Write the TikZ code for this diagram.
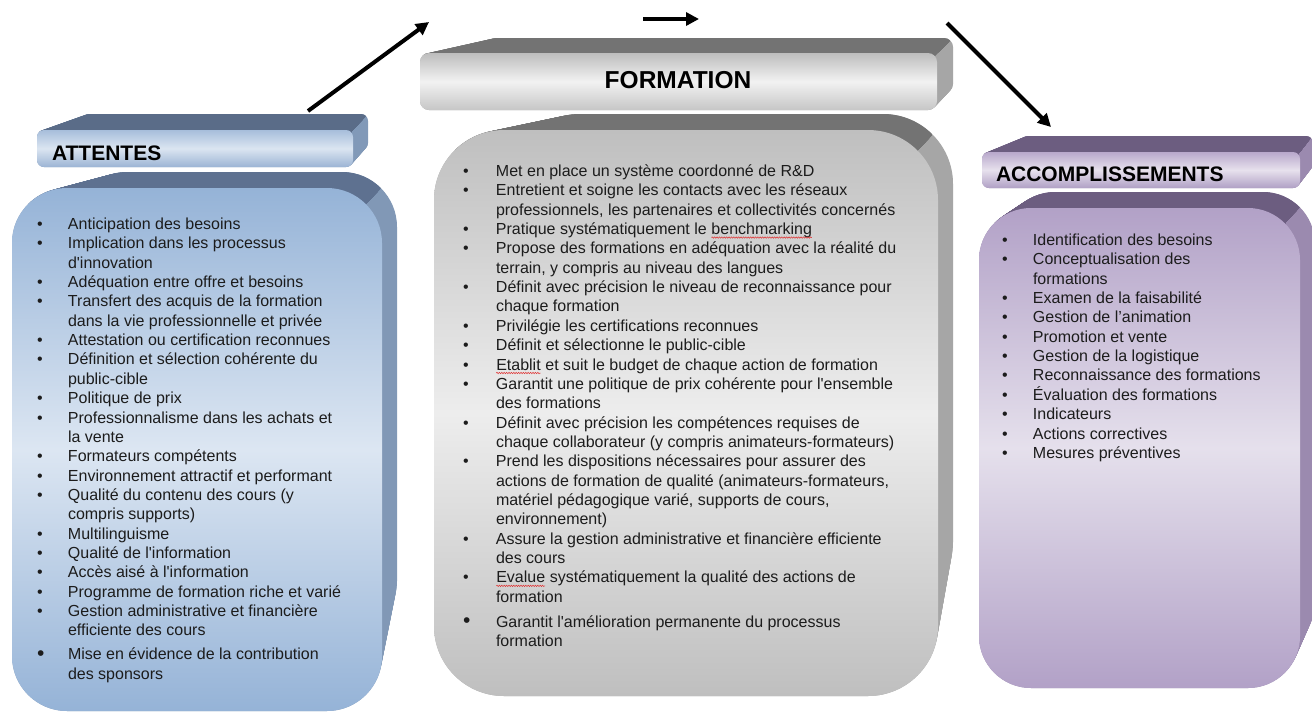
\documentclass[tikz,border=0pt]{standalone}
\usepackage{fontspec}
\setmainfont{Liberation Sans}[Ligatures={TeXOff,CommonOff}]
\usetikzlibrary{arrows.meta,decorations.pathmorphing}

% blue
\definecolor{bHdrTop}{HTML}{A7BEDB}\definecolor{bHdrMid}{HTML}{DBE5F1}\definecolor{bHdrBot}{HTML}{9CB4D4}
\definecolor{bHdrTopFace}{HTML}{5A6C88}\definecolor{bHdrSide}{HTML}{8199B8}
\definecolor{bBodyTop}{HTML}{95B3D7}\definecolor{bBodyMid}{HTML}{DCE6F2}
\definecolor{bBodyTopFace}{HTML}{5E7190}\definecolor{bBodySide}{HTML}{8198B6}
% gray
\definecolor{gHdrTop}{HTML}{BDBDBD}\definecolor{gHdrMid}{HTML}{F2F2F2}\definecolor{gHdrBot}{HTML}{C6C6C6}
\definecolor{gTopFace}{HTML}{737373}\definecolor{gSide}{HTML}{A6A6A6}
\definecolor{gBodyTop}{HTML}{BFBFBF}\definecolor{gBodyMid}{HTML}{EDEDED}
% purple
\definecolor{pHdrTop}{HTML}{B8A8CB}\definecolor{pHdrMid}{HTML}{E7E1ED}\definecolor{pHdrBot}{HTML}{B0A0C5}
\definecolor{pTopFace}{HTML}{6C5D80}\definecolor{pSide}{HTML}{9B8AAF}
\definecolor{pBodyTop}{HTML}{B2A1C7}\definecolor{pBodyMid}{HTML}{E5E0EC}
\definecolor{txtcol}{HTML}{1C1C1C}
\definecolor{squigcol}{HTML}{E03030}

% #1 x1 #2 y1 #3 x2 #4 y2 (front)  #5 bx1 #6 by1 #7 bx2 #8 by2 (back)  #9 radius
\newcommand{\extrude}[9]{%
  \foreach \i in {0,...,40}{%
    \pgfmathsetmacro{\tt}{\i/40}%
    \fill[sidecol, rounded corners=#9pt] ({#1+\tt*(#5-#1)},{#2+\tt*(#6-#2)}) rectangle ({#3+\tt*(#7-#3)},{#4+\tt*(#8-#4)});
  }%
  \begin{scope}
    \clip ({#1-80},{#6-30}) -- ({#7-0.29*#9},{#6-30}) -- ({#7-0.29*#9},{#6+0.29*#9}) -- ({#3-0.29*#9},{#2+0.29*#9}) -- ({#1-80},{#2+0.29*#9}) -- cycle;
    \foreach \i in {0,...,40}{%
      \pgfmathsetmacro{\tt}{\i/40}%
      \fill[topcol, rounded corners=#9pt] ({#1+\tt*(#5-#1)},{#2+\tt*(#6-#2)}) rectangle ({#3+\tt*(#7-#3)},{#4+\tt*(#8-#4)});
    }%
  \end{scope}}

\newcommand{\squig}[1]{\tikz[baseline=(sq.base)]{\node[inner sep=0pt,outer sep=0pt,anchor=base,draw=none,fill=none](sq){#1};\draw[squigcol,line width=0.5pt,decorate,decoration={snake,amplitude=0.7pt,segment length=2.4pt}] ([yshift=-3pt]sq.base west) -- ([yshift=-3pt]sq.base east);}}
\newcommand{\bigbul}{\raisebox{-0.5pt}{\fontsize{21}{19}\selectfont\textbullet}}

\tikzset{
  listtxt/.style={anchor=base west, inner sep=0pt, outer sep=0pt, text=txtcol, font=\fontsize{16}{19.35}\selectfont},
  hdr/.style={inner sep=0pt, outer sep=0pt, text=black, font=\bfseries\fontsize{21}{25}\selectfont},
  hdrbig/.style={hdr, font=\bfseries\fontsize{24.5}{29}\selectfont},
  flow/.style={line width=4pt, -{Triangle[length=13pt,width=13pt]}},
}

\begin{document}
\begin{tikzpicture}[x=1pt,y=-1pt]
\useasboundingbox (0,0) rectangle (1312,713);
\fill[white] (0,0) rectangle (1312,713);

% ---------- ATTENTES (blue) ----------
\tikzset{sidecol/.style={fill=bHdrSide}, topcol/.style={fill=bHdrTopFace}}
\extrude{37}{130}{353}{167}{82}{114}{368}{150}{7}
\shade[top color=bHdrTop, bottom color=bHdrBot, middle color=bHdrMid, rounded corners=7pt] (37,130) rectangle (353,167);
\node[hdr, anchor=base west] (hA) at (52,160) {ATTENTES};

\tikzset{sidecol/.style={fill=bBodySide}, topcol/.style={fill=bBodyTopFace}}
\extrude{12}{188}{382}{711}{72}{172}{397}{636}{55}
\shade[top color=bBodyTop, bottom color=bBodyTop, middle color=bBodyMid, rounded corners=55pt] (12,188) rectangle (382,711);

\node[listtxt] (lA) at (37.2,229.5) {\begin{tabular}[t]{@{}p{30.8pt}@{}l@{}}
\textbullet & Anticipation des besoins\\
\textbullet & Implication dans les processus\\
 & d'innovation\\
\textbullet & Adéquation entre offre et besoins\\
\textbullet & Transfert des acquis de la formation\\
 & dans la vie professionnelle et privée\\
\textbullet & Attestation ou certification reconnues\\
\textbullet & Définition et sélection cohérente du\\
 & public-cible\\
\textbullet & Politique de prix\\
\textbullet & Professionnalisme dans les achats et\\
 & la vente\\
\textbullet & Formateurs compétents\\
\textbullet & Environnement attractif et performant\\
\textbullet & Qualité du contenu des cours (y\\
 & compris supports)\\
\textbullet & Multilinguisme\\
\textbullet & Qualité de l'information\\
\textbullet & Accès aisé à l'information\\
\textbullet & Programme de formation riche et varié\\
\textbullet & Gestion administrative et financière\\
 & efficiente des cours\\[4.7pt]
\bigbul & Mise en évidence de la contribution\\
 & des sponsors
\end{tabular}};

% ---------- FORMATION (gray) ----------
\tikzset{sidecol/.style={fill=gSide}, topcol/.style={fill=gTopFace}}
\extrude{420}{53}{937}{110}{487}{38}{953}{93}{9}
\shade[top color=gHdrTop, bottom color=gHdrBot, middle color=gHdrMid, rounded corners=9pt] (420,53) rectangle (937,110);
\node[hdrbig, anchor=base] (hF) at (678,88) {FORMATION};

\extrude{434}{130}{938}{696}{510}{114}{953}{612}{70}
\shade[top color=gBodyTop, bottom color=gBodyTop, middle color=gBodyMid, rounded corners=70pt] (434,130) rectangle (938,696);

\node[listtxt] (lF) at (463.2,176.5) {\begin{tabular}[t]{@{}p{32.8pt}@{}l@{}}
\textbullet & Met en place un système coordonné de R\&D\\
\textbullet & Entretient et soigne les contacts avec les réseaux\\
 & professionnels, les partenaires et collectivités concernés\\
\textbullet & Pratique systématiquement le \squig{benchmarking}\\
\textbullet & Propose des formations en adéquation avec la réalité du\\
 & terrain, y compris au niveau des langues\\
\textbullet & Définit avec précision le niveau de reconnaissance pour\\
 & chaque formation\\
\textbullet & Privilégie les certifications reconnues\\
\textbullet & Définit et sélectionne le public-cible\\
\textbullet & \squig{Etablit} et suit le budget de chaque action de formation\\
\textbullet & Garantit une politique de prix cohérente pour l'ensemble\\
 & des formations\\
\textbullet & Définit avec précision les compétences requises de\\
 & chaque collaborateur (y compris animateurs-formateurs)\\
\textbullet & Prend les dispositions nécessaires pour assurer des\\
 & actions de formation de qualité (animateurs-formateurs,\\
 & matériel pédagogique varié, supports de cours,\\
 & environnement)\\
\textbullet & Assure la gestion administrative et financière efficiente\\
 & des cours\\
\textbullet & \squig{Evalue} systématiquement la qualité des actions de\\
 & formation\\[5.8pt]
\bigbul & Garantit l'amélioration permanente du processus\\
 & formation
\end{tabular}};

% ---------- ACCOMPLISSEMENTS (purple) ----------
\tikzset{sidecol/.style={fill=pSide}, topcol/.style={fill=pTopFace}}
\extrude{982}{152}{1300}{188}{1021}{136}{1313}{171}{7}
\shade[top color=pHdrTop, bottom color=pHdrBot, middle color=pHdrMid, rounded corners=7pt] (982,152) rectangle (1300,188);
\node[hdr, anchor=base west] (hP) at (996,181) {ACCOMPLISSEMENTS};

\extrude{979}{208}{1300}{688}{1003}{192}{1315}{654}{52}
\shade[top color=pBodyTop, bottom color=pBodyTop, middle color=pBodyMid, rounded corners=52pt] (979,208) rectangle (1300,688);

\node[listtxt] (lP) at (1002.2,245.5) {\begin{tabular}[t]{@{}p{30.8pt}@{}l@{}}
\textbullet & Identification des besoins\\
\textbullet & Conceptualisation des\\
 & formations\\
\textbullet & Examen de la faisabilité\\
\textbullet & Gestion de l’animation\\
\textbullet & Promotion et vente\\
\textbullet & Gestion de la logistique\\
\textbullet & Reconnaissance des formations\\
\textbullet & Évaluation des formations\\
\textbullet & Indicateurs\\
\textbullet & Actions correctives\\
\textbullet & Mesures préventives
\end{tabular}};

% ---------- arrows ----------
\coordinate (a1s) at (308,111);
\coordinate (a1e) at (429,22);
\coordinate (a2s) at (643,19);
\coordinate (a2e) at (699,19);
\coordinate (a3s) at (947,23);
\coordinate (a3e) at (1051,127);
\draw[flow] (a1s) -- (a1e);
\draw[flow] (a2s) -- (a2e);
\draw[flow] (a3s) -- (a3e);
\end{tikzpicture}
\end{document}
